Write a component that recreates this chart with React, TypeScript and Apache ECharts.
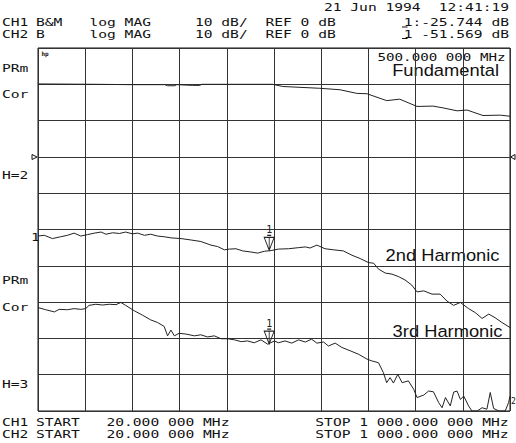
import React, { useEffect, useRef } from "react";
import * as echarts from "echarts";

// ---- data (MHz, dB) ----
const FREQ_START = 20;
const FREQ_STOP = 1000;
const DB_MIN = -70;
const DB_MAX = 30;
const DB_PER_DIV = 10;

const fundamental: number[][] = [
  [20, 20.1], [142, 20.0], [216, 19.9], [283, 19.9], [289, 19.6], [304, 19.6], [308, 19.9],
  [341, 19.7], [356, 19.7], [360, 20.0], [439, 20.0], [507, 20.0], [528, 19.4], [605, 18.9],
  [647, 18.5], [682, 17.5], [703, 17.4], [744, 15.5], [771, 15.9], [807, 13.9], [840, 14.0],
  [861, 13.5], [890, 12.7], [911, 12.9], [944, 11.4], [980, 11.5], [1000, 11.2],
];

const secondHarmonic: number[][] = [
  [20, -21.8], [33, -21.6], [50, -22.5], [67, -22.0], [81, -21.6], [95, -21.0], [109, -21.8],
  [123, -21.4], [137, -21.0], [151, -20.7], [161, -21.3], [175, -20.9], [189, -21.1], [202, -20.7],
  [216, -21.2], [227, -21.0], [241, -21.6], [254, -21.3], [268, -21.8], [282, -22.0], [296, -22.3],
  [317, -22.5], [338, -22.9], [358, -23.3], [379, -24.3], [393, -24.7], [407, -25.6], [417, -25.4],
  [431, -25.3], [445, -25.9], [462, -26.2], [476, -26.5], [490, -26.0], [504, -25.8], [519, -25.4],
  [540, -25.3], [561, -25.0], [575, -24.8], [585, -25.1], [599, -24.3], [616, -25.3], [634, -25.6],
  [654, -25.9], [672, -27.1], [689, -28.0], [706, -29.1], [717, -29.3], [727, -30.9], [741, -32.0],
  [755, -32.3], [769, -33.0], [782, -33.9], [796, -35.3], [807, -37.2], [821, -36.9], [838, -37.8],
  [855, -37.8], [869, -39.7], [883, -40.9], [897, -40.1], [914, -41.8], [928, -42.9], [942, -44.5],
  [956, -43.3], [969, -44.3], [983, -45.6], [1000, -47.0],
];

const thirdHarmonic: number[][] = [
  [20, -41.5], [36, -42.1], [54, -42.7], [64, -42.0], [81, -42.1], [95, -41.8], [109, -42.0],
  [119, -41.8], [126, -40.9], [140, -40.6], [154, -40.8], [168, -40.6], [182, -40.7], [192, -40.1],
  [202, -40.9], [220, -42.4], [237, -43.6], [254, -44.9], [268, -45.6], [282, -46.7], [289, -49.3],
  [296, -47.7], [303, -49.3], [313, -48.6], [327, -48.8], [345, -49.3], [358, -49.0], [372, -49.6],
  [386, -49.3], [400, -50.1], [414, -50.1], [428, -50.4], [442, -50.9], [455, -50.7], [469, -51.2],
  [483, -50.4], [497, -51.6], [511, -50.7], [519, -51.2], [533, -50.7], [547, -51.3], [561, -50.4],
  [575, -51.0], [588, -50.2], [599, -51.3], [613, -51.0], [623, -52.1], [637, -51.3], [651, -52.5],
  [668, -53.4], [686, -54.4], [703, -55.7], [713, -56.2], [727, -56.7], [737, -59.4], [744, -62.2],
  [751, -60.8], [758, -62.3], [767, -59.9], [776, -62.2], [789, -61.7], [800, -64.0], [807, -66.3],
  [821, -65.6], [831, -64.5], [841, -64.7], [852, -67.7], [859, -69.1], [866, -66.3], [876, -68.6],
  [883, -64.8], [890, -64.5], [897, -66.8], [904, -65.9], [914, -68.6], [921, -70.0], [932, -70.0],
  [942, -69.1], [952, -69.5], [959, -64.9], [966, -69.3], [977, -70.0], [990, -70.0], [997, -67.7],
  [1000, -65.9],
];

const markerFreq = 500;
const markerCh1 = -25.744;
const markerCh2 = -51.569;

const headerDate = "21 Jun 1994";
const headerTime = "12:41:19";
const ch1Info = ["CH1", "B&M", "log MAG", "10 dB/", "REF 0 dB", "1:-25.744 dB"];
const ch2Info = ["CH2", "B", "log MAG", "10 dB/", "REF 0 dB", "1 -51.569 dB"];
const startLabel = "20.000 000 MHz";
const stopLabel = "STOP 1 000.000 000 MHz";
const markerFreqLabel = "500.000 000 MHz";
const traceNames = ["Fundamental", "2nd Harmonic", "3rd Harmonic"];

const MONO = '"DejaVu Sans Mono", monospace';
const SANS = '"Liberation Sans", Arial, sans-serif';
const INK = "#111";
const SX = 1.39;

function monoText(text: string, x: number, y: number, align: string = "left", extra: any = {}) {
  return {
    type: "text",
    x,
    y,
    scaleX: extra.scaleX ?? SX,
    silent: true,
    style: {
      text,
      fill: INK,
      fontFamily: extra.fontFamily ?? MONO,
      fontSize: extra.fontSize ?? 10.5,
      fontWeight: extra.fontWeight ?? "normal",
      align,
      verticalAlign: "middle",
    },
  };
}

const markerSymbol = "path://M3,-2 L7,-2 M0,0 L10,0 L5,13 Z M5,0 L5,13";

function markerPoint(value: number) {
  return {
    symbol: markerSymbol,
    symbolSize: [10, 15],
    symbolOffset: [0, "-50%"],
    silent: true,
    itemStyle: { color: "rgba(0,0,0,0)", borderColor: "#222", borderWidth: 1 },
    label: {
      show: true,
      position: "top",
      distance: 0,
      formatter: "1",
      color: "#222",
      fontSize: 10,
      fontFamily: MONO,
    },
    data: [{ coord: [markerFreq, value] }],
  };
}

export default function App() {
  const ref = useRef<HTMLDivElement>(null);

  useEffect(() => {
    if (!ref.current) return;
    const chart = echarts.init(ref.current, undefined, { renderer: "svg" });

    const colX = [2, 36, 89.5, 195, 265.5];
    const graphic: any[] = [];
    graphic.push(monoText(headerDate, 324, 7));
    graphic.push(monoText(headerTime, 509, 7, "right"));
    [ch1Info, ch2Info].forEach((row, r) => {
      const y = r === 0 ? 22.5 : 34;
      row.slice(0, 5).forEach((t, i) => graphic.push(monoText(t, colX[i], y)));
      graphic.push(monoText(row[5], 509, y, "right"));
      graphic.push({
        type: "line",
        silent: true,
        shape: { x1: 402, y1: y + 4.5, x2: 407.5, y2: y + 4.5 },
        style: { stroke: INK, lineWidth: 1 },
      });
    });
    ["CH1", "CH2"].forEach((ch, r) => {
      const y = r === 0 ? 422 : 434;
      graphic.push(monoText(ch, 2, y));
      graphic.push(monoText("START", 36, y));
      graphic.push(monoText(startLabel, 106.5, y));
      graphic.push(monoText(stopLabel, 508.5, y, "right"));
    });
    graphic.push(monoText("PRm", 2, 68));
    graphic.push(monoText("Cor", 2, 94));
    graphic.push(monoText("H=2", 2, 175.5));
    graphic.push(monoText("1", 31, 237));
    graphic.push(monoText("PRm", 2, 280));
    graphic.push(monoText("Cor", 2, 307));
    graphic.push(monoText("H=3", 2, 384));
    graphic.push(monoText(markerFreqLabel, 505.5, 57, "right", { scaleX: 1.35 }));
    graphic.push(monoText("hp", 41.5, 53.5, "left", { scaleX: 1, fontSize: 6, fontWeight: "bold" }));
    graphic.push(monoText("2", 511, 401, "left", { scaleX: 1, fontSize: 8 }));
    const titleY = [70.5, 255, 331.5];
    const titleX = [499, 499.5, 502.5];
    traceNames.forEach((t, i) =>
      graphic.push(monoText(t, titleX[i], titleY[i], "right", { fontFamily: SANS, fontSize: 16.5, scaleX: 1.11 }))
    );
    graphic.push({
      type: "polygon",
      silent: true,
      shape: { points: [[32, 154.5], [32, 159.5], [37, 157]] },
      style: { fill: "#fff", stroke: INK, lineWidth: 1 },
    });
    graphic.push({
      type: "polygon",
      silent: true,
      shape: { points: [[515, 154.5], [515, 159.5], [510.5, 157]] },
      style: { fill: "#fff", stroke: INK, lineWidth: 1 },
    });

    const lineSeries = (data: number[][], mp?: any) => ({
      type: "line",
      data,
      xAxisIndex: 0,
      yAxisIndex: 0,
      showSymbol: false,
      symbol: "none",
      clip: true,
      lineStyle: { color: "#222", width: 1 },
      silent: true,
      ...(mp ? { markPoint: mp } : {}),
    });

    chart.setOption({
      animation: false,
      backgroundColor: "#fff",
      grid: {
        left: 38,
        right: 6,
        top: 48,
        bottom: 32,
        show: true,
        borderColor: "#111",
        borderWidth: 1,
        backgroundColor: "transparent",
      },
      xAxis: [
        {
          type: "value",
          min: FREQ_START,
          max: FREQ_STOP,
          show: false,
          splitLine: { show: false },
        },
        {
          type: "value",
          min: 0,
          max: 10,
          interval: 1,
          axisLine: { show: false },
          axisTick: { show: false },
          axisLabel: { show: false },
          splitLine: { show: true, lineStyle: { color: "#333", width: 1 } },
        },
      ],
      yAxis: {
        type: "value",
        min: DB_MIN,
        max: DB_MAX,
        interval: DB_PER_DIV,
        axisLine: { show: false },
        axisTick: { show: false },
        axisLabel: { show: false },
        splitLine: { show: true, lineStyle: { color: "#333", width: 1 } },
      },
      series: [
        lineSeries(fundamental),
        lineSeries(secondHarmonic, markerPoint(markerCh1)),
        lineSeries(thirdHarmonic, markerPoint(markerCh2)),
      ],
      graphic,
    });

    return () => chart.dispose();
  }, []);

  return (
    <div
      ref={ref}
      style={{ position: "fixed", left: 0, top: 0, width: 516, height: 443, background: "#fff" }}
    />
  );
}
